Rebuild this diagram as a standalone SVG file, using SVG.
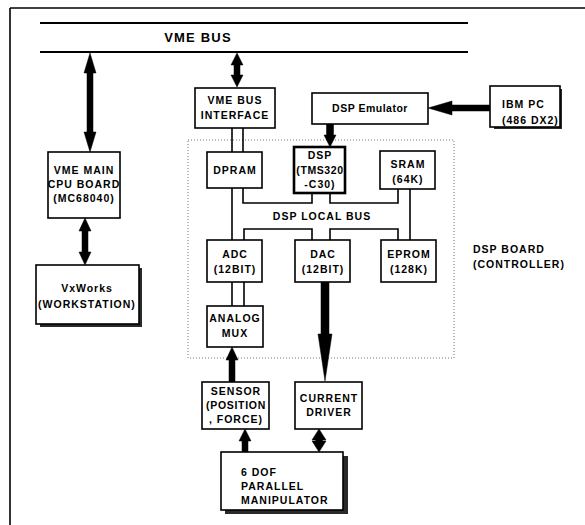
<svg xmlns="http://www.w3.org/2000/svg" width="585" height="525" viewBox="0 0 585 525">
<style>
.box{fill:#fff;stroke:#000;stroke-width:1.6}
.thick{fill:#fff;stroke:#000;stroke-width:2.6}
.sh{fill:#2a2a2a}
.t{font-family:"Liberation Sans",Arial,sans-serif;font-weight:bold;font-size:10.5px;letter-spacing:1px;fill:#000;text-anchor:middle}
.tl{text-anchor:start}
.ln{fill:none;stroke:#000;stroke-width:1.6}
.arr{fill:#000;stroke:#000;stroke-width:0.5}
</style>
<rect width="585" height="525" fill="#fff"/>
<g id="frame">
<line x1="10" y1="8" x2="585" y2="8" stroke="#000" stroke-width="1.6"/>
<line x1="10" y1="8" x2="10" y2="525" stroke="#000" stroke-width="1.6"/>
</g>
<g id="vme_bus">
<line x1="40" y1="23" x2="468" y2="23" stroke="#000" stroke-width="2"/>
<line x1="40" y1="52" x2="468" y2="52" stroke="#000" stroke-width="2"/>
<text class="t" x="198" y="42" style="font-size:13px;letter-spacing:1.2px">VME BUS</text>
</g>
<g id="dsp_board">
<rect x="188" y="140" width="266" height="218" fill="none" stroke="#777" stroke-width="1" stroke-dasharray="1,2"/>
<text class="t tl" x="473" y="253">DSP BOARD</text>
<text class="t tl" x="473" y="268">(CONTROLLER)</text>
</g>
<g id="connectors">
<path class="arr" d="M90,53 L96,73 L93,73 L93,132 L96,132 L90,152 L84,132 L87,132 L87,73 L84,73 Z"/>
<path class="arr" d="M85,218 L91,231 L88,231 L88,252 L91,252 L85,265 L79,252 L82,252 L82,231 L79,231 Z"/>
<path class="arr" d="M237,53 L243,65 L240,65 L240,75 L243,75 L237,87 L231,75 L234,75 L234,65 L231,65 Z"/>
<path class="arr" d="M428,108 L452,101 L452,105 L490,105 L490,111 L452,111 L452,115 Z"/>
<path class="arr" d="M330,147 L336,135 L333.5,135 L333.5,124 L326.5,124 L326.5,135 L324,135 Z"/>
<line class="ln" x1="232" y1="128" x2="232" y2="152"/>
<line class="ln" x1="243" y1="128" x2="243" y2="152"/>
<polyline class="ln" points="243,188 243,203 312,203 312,193"/>
<polyline class="ln" points="330,193 330,203 398,203 398,189"/>
<polyline class="ln" points="244,240 244,229 312,229 312,240"/>
<polyline class="ln" points="330,240 330,229 398,229 398,240"/>
<line class="ln" x1="232" y1="188" x2="232" y2="240"/>
<line class="ln" x1="410" y1="189" x2="410" y2="240"/>
<line class="ln" x1="232" y1="282" x2="232" y2="306"/>
<line class="ln" x1="244" y1="282" x2="244" y2="306"/>
<path class="arr" d="M321,282 L329,282 L329,334 L332,334 L325,381 L318,334 L321,334 Z"/>
<path class="arr" d="M232,347 L238,360 L235,360 L235,382 L229,382 L229,360 L226,360 Z"/>
<path class="arr" d="M245,429 L251,441 L248,441 L248,452 L242,452 L242,441 L239,441 Z"/>
<path class="arr" d="M319,429 L326,440 L322.5,440 L322.5,441 L326,441 L319,452 L312,441 L315.5,441 L315.5,440 L312,440 Z"/>
</g>
<g id="cpu">
<rect class="box" x="48" y="152" width="72" height="66"/>
<text class="t" x="84" y="174">VME MAIN</text>
<text class="t" x="84" y="188">CPU BOARD</text>
<text class="t" x="84" y="202">(MC68040)</text>
</g>
<g id="vxworks">
<rect class="sh" x="40" y="268" width="102" height="59"/>
<rect class="box" x="36" y="265" width="103" height="59"/>
<text class="t" x="87" y="292">VxWorks</text>
<text class="t" x="87" y="308">(WORKSTATION)</text>
</g>
<g id="vme_if">
<rect class="box" x="195" y="88" width="80" height="40"/>
<text class="t" x="235" y="104">VME BUS</text>
<text class="t" x="235" y="119">INTERFACE</text>
</g>
<g id="dsp_emulator">
<rect class="box" x="312" y="93" width="116" height="31"/>
<text class="t" x="370" y="112" style="letter-spacing:0.5px">DSP Emulator</text>
</g>
<g id="ibm_pc">
<rect class="sh" x="494" y="89" width="68" height="40"/>
<rect class="box" x="490" y="86" width="70" height="41"/>
<text class="t tl" x="502" y="108">IBM PC</text>
<text class="t tl" x="502" y="124">(486 DX2)</text>
</g>
<g id="dpram">
<rect class="box" x="207" y="152" width="55" height="36"/>
<text class="t" x="235" y="174">DPRAM</text>
</g>
<g id="dsp">
<rect class="thick" x="294" y="147" width="51" height="46"/>
<text class="t" x="320" y="159">DSP</text>
<text class="t" x="320" y="174" style="letter-spacing:0.6px">(TMS320</text>
<text class="t" x="320" y="188">-C30)</text>
</g>
<g id="sram">
<rect class="box" x="380" y="151" width="55" height="38"/>
<text class="t" x="408" y="168">SRAM</text>
<text class="t" x="408" y="183">(64K)</text>
</g>
<g id="local_bus_label">
<text class="t" x="322" y="220">DSP LOCAL BUS</text>
</g>
<g id="adc">
<rect class="box" x="207" y="240" width="55" height="42"/>
<text class="t" x="235" y="258">ADC</text>
<text class="t" x="235" y="273">(12BIT)</text>
</g>
<g id="dac">
<rect class="box" x="295" y="240" width="55" height="42"/>
<text class="t" x="323" y="258">DAC</text>
<text class="t" x="323" y="273">(12BIT)</text>
</g>
<g id="eprom">
<rect class="box" x="381" y="240" width="55" height="42"/>
<text class="t" x="409" y="258">EPROM</text>
<text class="t" x="409" y="273">(128K)</text>
</g>
<g id="analog_mux">
<rect class="box" x="207" y="306" width="56" height="41"/>
<text class="t" x="235" y="322">ANALOG</text>
<text class="t" x="235" y="337">MUX</text>
</g>
<g id="sensor">
<rect class="box" x="202" y="382" width="67" height="47"/>
<text class="t" x="236" y="395">SENSOR</text>
<text class="t" x="236" y="409" style="letter-spacing:0.7px">(POSITION</text>
<text class="t" x="236" y="423">, FORCE)</text>
</g>
<g id="current_driver">
<rect class="box" x="295" y="382" width="67" height="47"/>
<text class="t" x="329" y="402">CURRENT</text>
<text class="t" x="329" y="416">DRIVER</text>
</g>
<g id="manipulator">
<rect class="sh" x="225" y="456" width="123" height="58"/>
<rect class="box" x="221" y="452" width="122" height="58"/>
<text class="t tl" x="241" y="476">6 DOF</text>
<text class="t tl" x="241" y="490">PARALLEL</text>
<text class="t tl" x="241" y="504">MANIPULATOR</text>
</g>
</svg>
